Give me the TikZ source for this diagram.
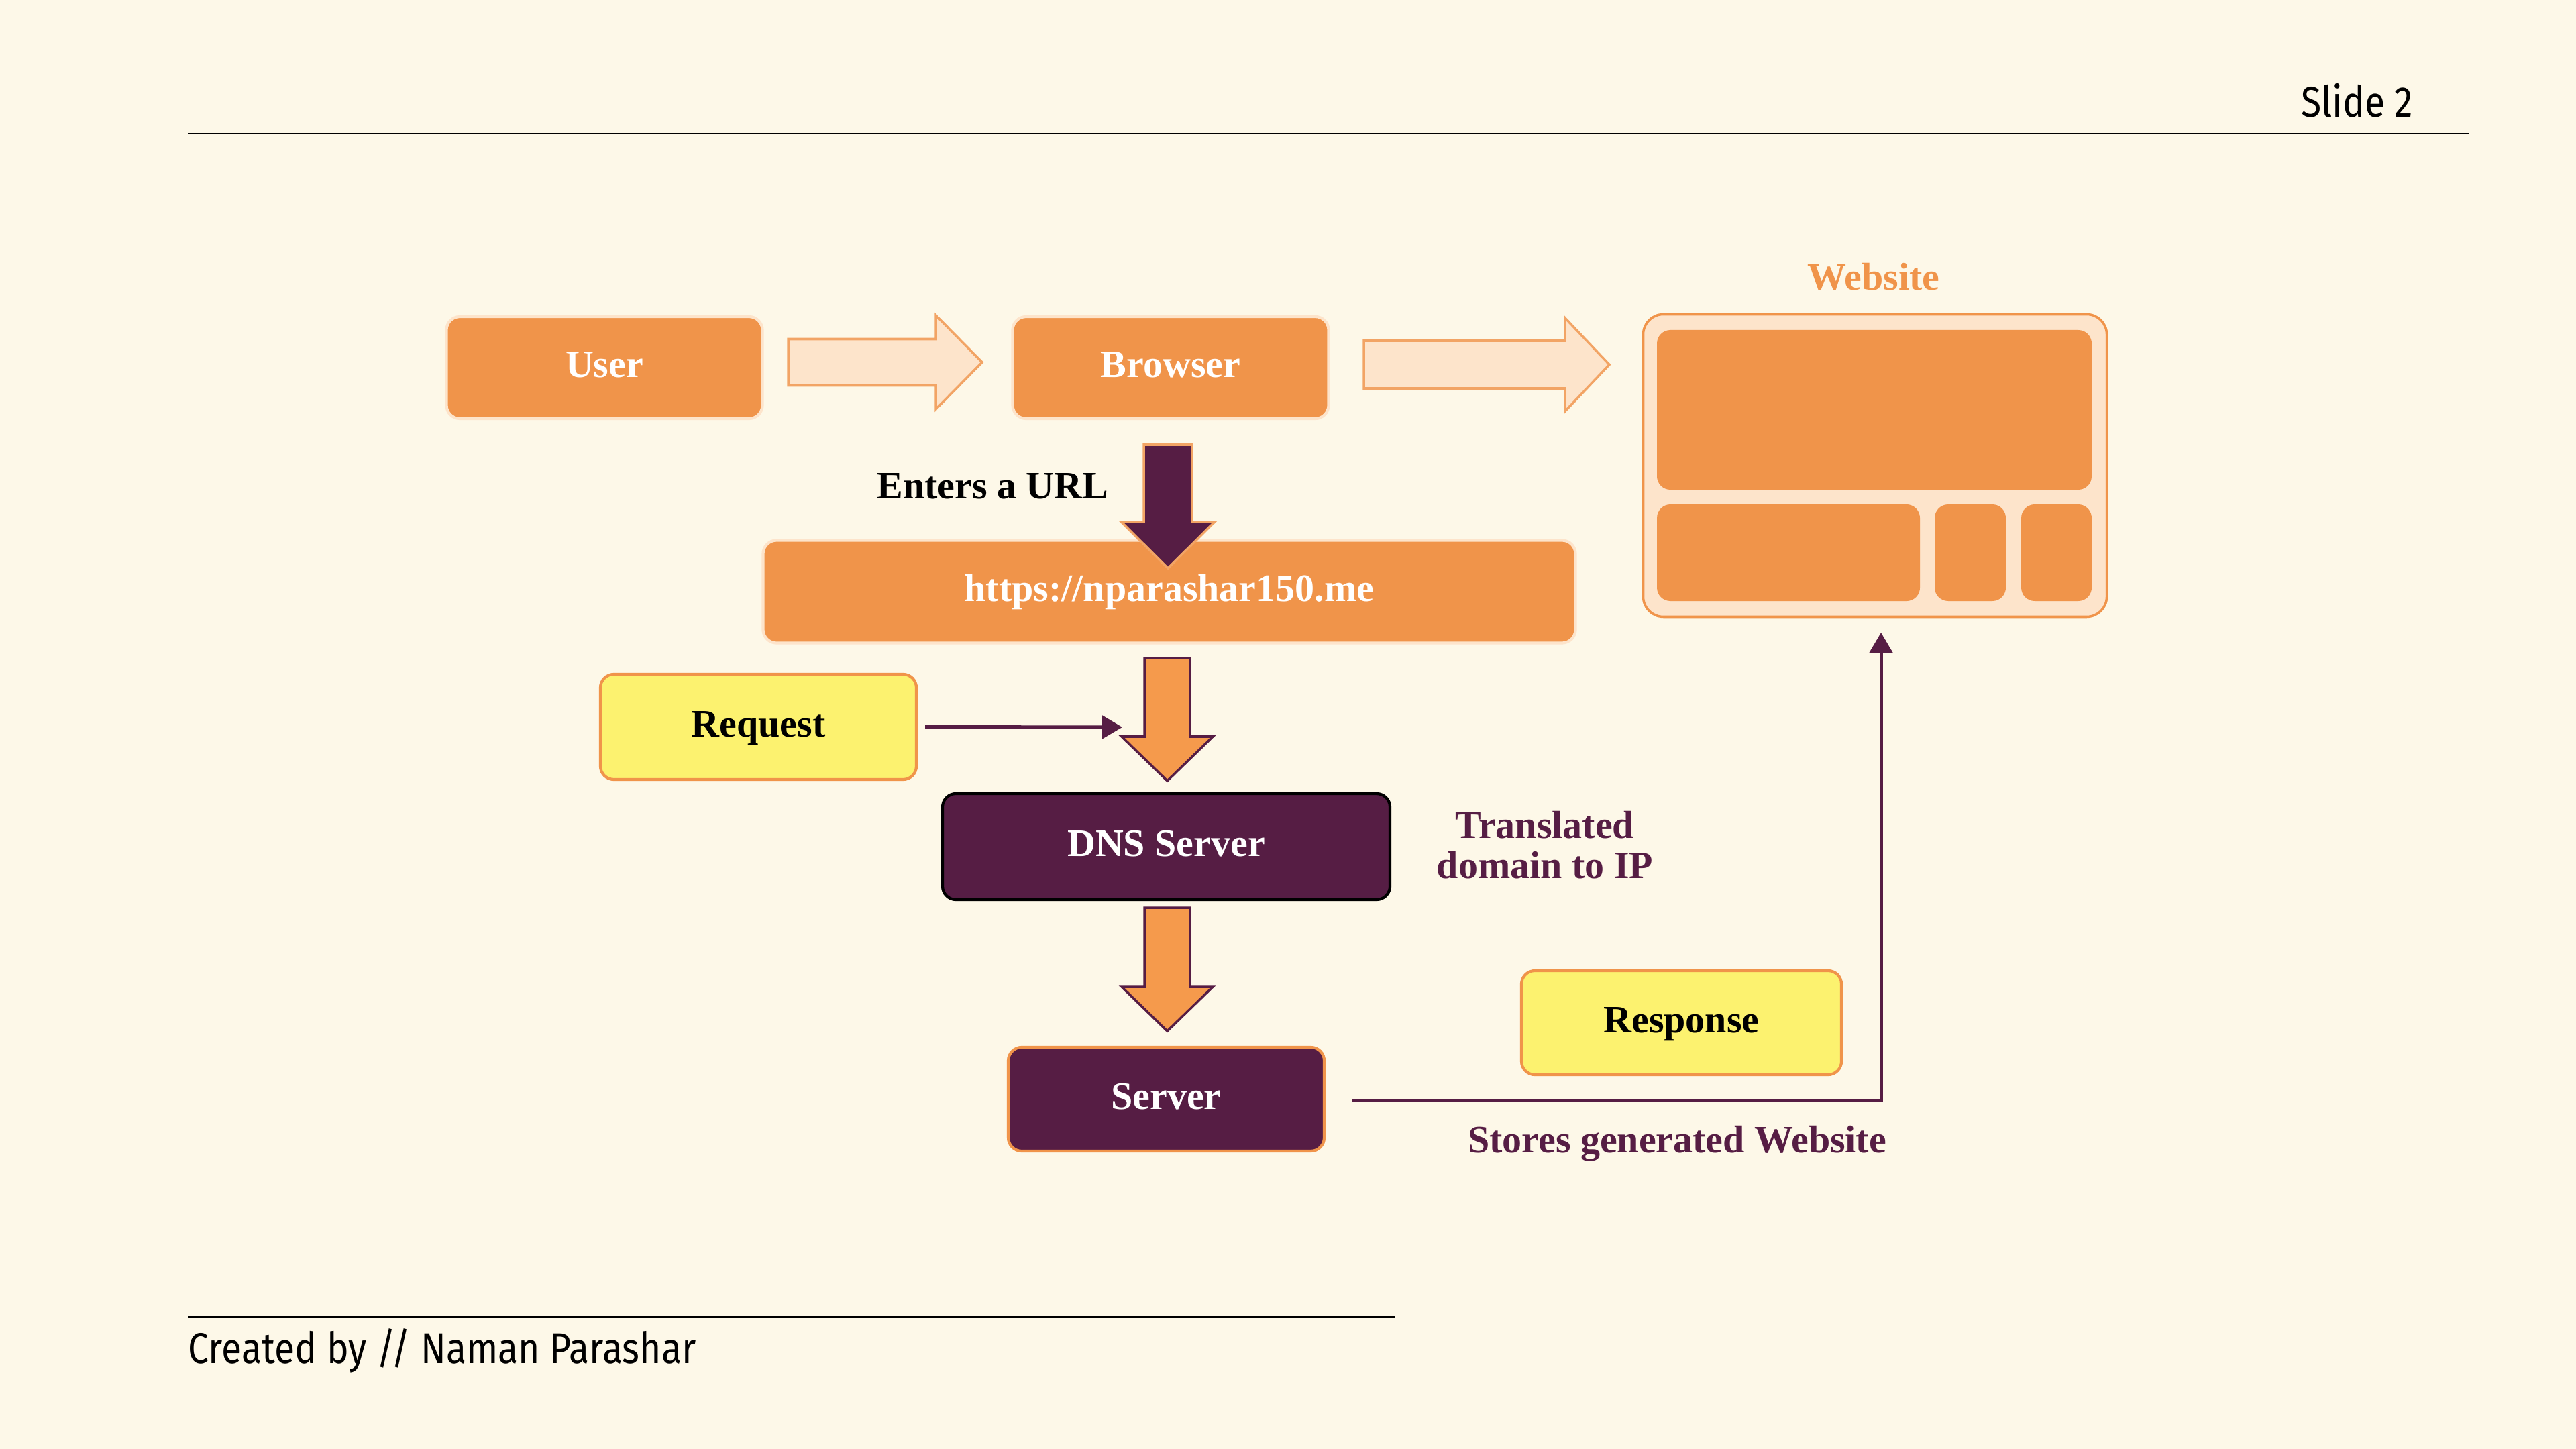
\documentclass[tikz,border=0pt]{standalone}
\usepackage{fontspec}
\setmainfont{Liberation Serif}
\newfontfamily\slidefont[FakeStretch=0.86]{Fira Sans}
\usetikzlibrary{arrows.meta,calc,positioning}

\definecolor{pagebg}{HTML}{FDF8E8}
\definecolor{boxorange}{HTML}{F0944A}
\definecolor{arroworange}{HTML}{F59A4C}
\definecolor{peach}{HTML}{FDE4CB}
\definecolor{plum}{HTML}{561D44}
\definecolor{notice}{HTML}{FCF26F}

% block arrows: style, from, tip, shaft half width, head half width, head length
\newcommand{\rightblock}[6]{%
  \path[#1] let \p1=(#2), \p2=(#3) in
    (\x1,{\y1+#4}) -- ({\x2-#6},{\y1+#4}) -- ({\x2-#6},{\y1+#5}) -- (\x2,\y1)
    -- ({\x2-#6},{\y1-#5}) -- ({\x2-#6},{\y1-#4}) -- (\x1,{\y1-#4}) -- cycle;}
\newcommand{\downblock}[6]{%
  \path[#1] let \p1=(#2), \p2=(#3) in
    ({\x1-#4},\y1) -- ({\x1+#4},\y1) -- ({\x1+#4},{\y2+#6}) -- ({\x1+#5},{\y2+#6})
    -- (\x1,\y2) -- ({\x1-#5},{\y2+#6}) -- ({\x1-#4},{\y2+#6}) -- cycle;}

\begin{document}
\begin{tikzpicture}[x=1cm,y=-1cm]
  \tikzset{
    serifbold/.style={font=\fontsize{16.5}{17}\selectfont\bfseries},
    box/.style={rounded corners=0.2cm, line width=1.2pt, serifbold,
      text height=0.85em, text depth=0pt, inner sep=0pt},
    orangebox/.style={box, fill=boxorange, draw=peach, text=white},
    plumbox/.style={box, fill=plum, text=white},
    notebox/.style={box, fill=notice, draw=boxorange, text=black},
    panel/.style={fill=boxorange, rounded corners=0.2cm},
    flatarrow/.style={fill=peach, draw=boxorange!85, line width=1pt},
    urlarrow/.style={fill=plum, draw=boxorange!85, line width=1pt},
    dnsarrow/.style={fill=arroworange, draw=plum, line width=1pt},
    link/.style={draw=plum, line width=0.05cm, -{Triangle[length=0.3cm,width=0.34cm]}},
    slidetext/.style={font=\slidefont\fontsize{18.3}{20}\selectfont, text=black, inner sep=0pt}
  }

  % page
  \fill[pagebg] (0,0) rectangle (38.4,21.6);
  \draw[line width=0.8pt] (2.80,1.99) -- (36.80,1.99);
  \draw[line width=0.8pt] (2.80,19.63) -- (20.79,19.63);
  \node[slidetext, anchor=base east] (slide) at (35.98,1.75) {Slide 2};
  \node[slidetext, anchor=base west] (credit) at (2.80,20.32) {Created by // Naman Parashar};

  % top row
  \node[orangebox, minimum width=4.71cm, minimum height=1.52cm] (user) at (9.01,5.48) {User};
  \node[orangebox, minimum width=4.71cm, minimum height=1.52cm] (browser) at (17.45,5.48) {Browser};
  \node[orangebox, minimum width=12.11cm, minimum height=1.53cm] (url) at (17.43,8.82) {https://nparashar150.me};

  % website mock-up
  \node[font=\fontsize{16.5}{17}\selectfont\bfseries, text=boxorange, anchor=base] (sitename) at (27.93,4.33) {Website};
  \node[fill=peach, draw=boxorange, line width=1pt, rounded corners=0.3cm,
    minimum width=6.91cm, minimum height=4.51cm] (site) at (27.95,6.94) {};
  \node[panel, minimum width=6.48cm, minimum height=2.38cm] (sitetop) at (27.94,6.11) {};
  \node[panel, minimum width=3.92cm, minimum height=1.44cm] (sitea) at (26.66,8.24) {};
  \node[panel, minimum width=1.06cm, minimum height=1.44cm] (siteb) at (29.37,8.24) {};
  \node[panel, minimum width=1.05cm, minimum height=1.44cm] (sitec) at (30.655,8.24) {};

  % lookup chain
  \node[notebox, minimum width=4.71cm, minimum height=1.57cm] (request) at (11.305,10.835) {Request};
  \node[plumbox, draw=black, minimum width=6.67cm, minimum height=1.58cm] (dns) at (17.385,12.62) {DNS Server};
  \node[plumbox, draw=boxorange, minimum width=4.71cm, minimum height=1.55cm] (server) at (17.385,16.385) {Server};
  \node[notebox, minimum width=4.77cm, minimum height=1.55cm] (response) at (25.065,15.245) {Response};

  % notes
  \node[serifbold, text=black] (enters) at (14.80,7.25) {Enters a URL};
  \node[serifbold, text=plum, align=center] (translated) at (23.03,12.60) {Translated\\domain to IP};
  \node[serifbold, text=plum, anchor=base] (stores) at (25.00,17.18) {Stores generated Website};

  % block arrows
  \coordinate (ua) at (11.75,5.40);  \coordinate (ub) at (14.64,5.40);
  \coordinate (ba) at (20.33,5.435); \coordinate (bb) at (23.99,5.435);
  \coordinate (bu) at (17.41,6.63);  \coordinate (bv) at (17.41,8.47);
  \coordinate (ud) at (17.40,9.81);  \coordinate (ue) at (17.40,11.64);
  \coordinate (ds) at (17.40,13.53); \coordinate (dt) at (17.40,15.37);
  \rightblock{flatarrow}{ua}{ub}{0.345cm}{0.70cm}{0.69cm}
  \rightblock{flatarrow}{ba}{bb}{0.355cm}{0.695cm}{0.66cm}
  \downblock{urlarrow}{bu}{bv}{0.36cm}{0.695cm}{0.69cm}
  \downblock{dnsarrow}{ud}{ue}{0.34cm}{0.68cm}{0.66cm}
  \downblock{dnsarrow}{ds}{dt}{0.34cm}{0.68cm}{0.66cm}

  % thin connectors
  \coordinate (reqin) at (16.73,10.84);
  \coordinate (sitein) at (28.04,9.43);
  \draw[link] ([xshift=0.11cm]request.east) -- (reqin);
  \draw[link] ([xshift=0.39cm,yshift=-0.015cm]server.east) -| (sitein);
\end{tikzpicture}
\end{document}
